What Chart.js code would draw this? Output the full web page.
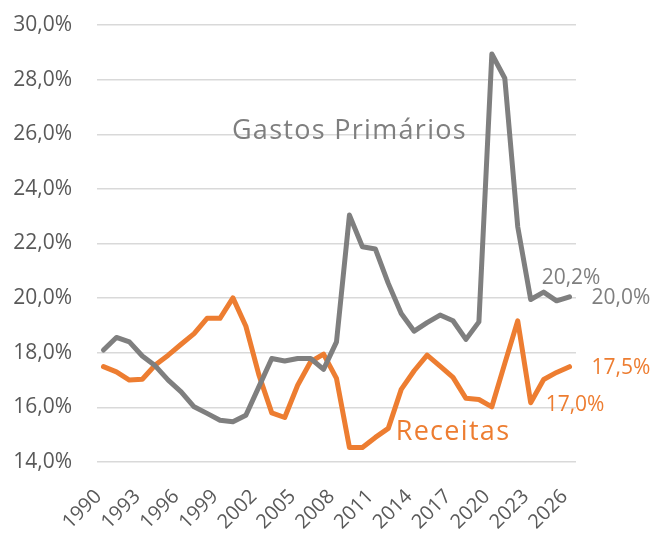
<!DOCTYPE html>
<html>
<head>
<meta charset="utf-8">
<script src="https://cdn.jsdelivr.net/npm/chart.js@4/dist/chart.umd.min.js"></script>
<style>
  html, body { margin: 0; padding: 0; background: #ffffff; }
  #wrap { width: 655px; height: 535px; }
</style>
</head>
<body>
<div id="wrap"><canvas id="c" width="655" height="535"></canvas></div>
<script>
const years = [];
for (let y = 1990; y <= 2026; y++) years.push(String(y));

const gastos = [18.10, 18.56, 18.40, 17.88, 17.52, 17.00, 16.57, 16.02, 15.78, 15.53,
                15.47, 15.71, 16.75, 17.79, 17.70, 17.79, 17.79, 17.39, 18.40, 23.04,
                21.88, 21.80, 20.54, 19.44, 18.79, 19.10, 19.38, 19.17, 18.49, 19.13,
                28.94, 28.05, 22.61, 19.95, 20.22, 19.90, 20.05];

const receitas = [17.49, 17.30, 17.00, 17.03, 17.55, 17.91, 18.31, 18.70, 19.26, 19.26,
                  20.01, 18.97, 17.20, 15.80, 15.63, 16.81, 17.67, 17.95, 17.06, 14.53,
                  14.53, 14.90, 15.23, 16.66, 17.34, 17.91, 17.51, 17.10, 16.33, 16.29,
                  16.02, 17.61, 19.17, 16.17, 17.02, 17.28, 17.49];

const yTicks = [14, 16, 18, 20, 22, 24, 26, 28, 30];

const GRAY = '#7F7F7F';
const ORANGE = '#ED7D31';

const fmt = v => v.toFixed(1).replace('.', ',') + '%';

// value labels next to points
const pointLabels = [
  { data: gastos,   year: '2024', text: '20,2%', color: GRAY,   dx: -2, dy: -14 },
  { data: gastos,   year: '2026', text: '20,0%', color: GRAY,   dx: 22, dy: 1 },
  { data: receitas, year: '2026', text: '17,5%', color: ORANGE, dx: 22, dy: 1 },
  { data: receitas, year: '2024', text: '17,0%', color: ORANGE, dx: 2,  dy: 25 }
];
// series name annotations placed in data coordinates
const seriesNames = [
  { text: 'Gastos Primários', color: GRAY,   year: '2009', value: 26.1 },
  { text: 'Receitas',         color: ORANGE, year: '2017', value: 15.1 }
];

const labelPlugin = {
  id: 'labelPlugin',
  afterDatasetsDraw(chart) {
    const ctx = chart.ctx;
    const xs = chart.scales.x, ys = chart.scales.y;
    ctx.save();
    ctx.textBaseline = 'middle';
    ctx.textAlign = 'left';
    ctx.font = '21px "Open Sans"';
    pointLabels.forEach(l => {
      const i = years.indexOf(l.year);
      const px = xs.getPixelForValue(i);
      const py = ys.getPixelForValue(l.data[i]);
      ctx.fillStyle = l.color;
      ctx.fillText(l.text, px + l.dx, py + l.dy);
    });
    ctx.font = '27px "Open Sans"';
    try { ctx.letterSpacing = '1.3px'; } catch (e) {}
    ctx.textAlign = 'center';
    seriesNames.forEach(s => {
      const px = xs.getPixelForValue(years.indexOf(s.year));
      const py = ys.getPixelForValue(s.value);
      ctx.fillStyle = s.color;
      ctx.fillText(s.text, px, py);
    });
    ctx.restore();
  }
};

new Chart(document.getElementById('c'), {
  type: 'line',
  data: {
    labels: years,
    datasets: [
      { label: 'Gastos Primários', data: gastos, borderColor: GRAY, borderWidth: 5,
        pointRadius: 0, tension: 0, fill: false, borderCapStyle: 'round', borderJoinStyle: 'round' },
      { label: 'Receitas', data: receitas, borderColor: ORANGE, borderWidth: 5,
        pointRadius: 0, tension: 0, fill: false, borderCapStyle: 'round', borderJoinStyle: 'round' }
    ]
  },
  options: {
    responsive: false,
    animation: false,
    devicePixelRatio: 1,
    layout: { padding: { left: 0, right: 79, top: 25, bottom: 0 } },
    plugins: { legend: { display: false }, tooltip: { enabled: false } },
    scales: {
      x: {
        offset: true,
        afterFit: s => { s.height = 73; s.paddingLeft = 0; s.paddingRight = 0; },
        grid: { display: false, drawTicks: false },
        border: { display: false },
        ticks: {
          autoSkip: false,
          maxRotation: 45, minRotation: 45,
          padding: 23,
          labelOffset: -5,
          color: '#595959',
          font: { family: '"Open Sans"', size: 20 },
          callback: function(v, i) { return (i % 3 === 0) ? years[i] : ''; }
        }
      },
      y: {
        min: 14, max: 30,
        afterBuildTicks: s => { s.ticks = yTicks.map(v => ({ value: v })); },
        afterFit: s => { s.width = 97; s.paddingTop = 0; s.paddingBottom = 0; },
        grid: { color: '#d9d9d9', lineWidth: 1.5, drawTicks: false },
        border: { display: false },
        ticks: {
          padding: 25,
          color: '#595959',
          font: { family: '"Open Sans"', size: 21 },
          callback: v => fmt(v)
        }
      }
    }
  },
  plugins: [labelPlugin]
});
</script>
</body>
</html>
